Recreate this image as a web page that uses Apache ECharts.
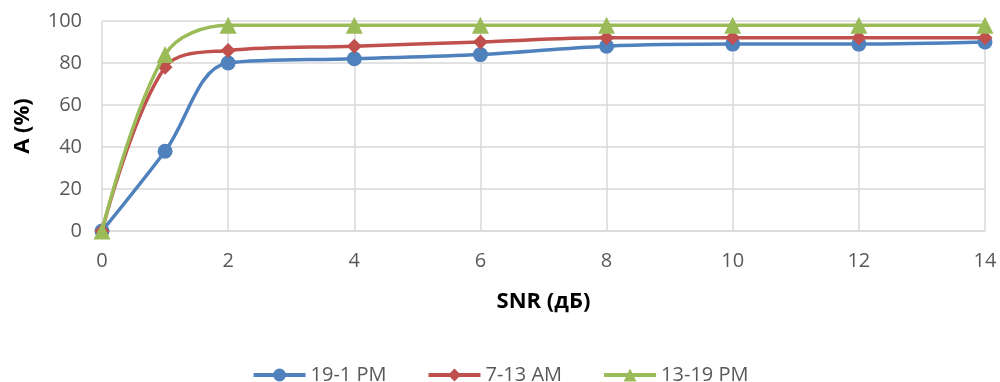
<!DOCTYPE html>
<html><head><meta charset="utf-8">
<script src="https://cdn.jsdelivr.net/npm/echarts@6/dist/echarts.min.js"></script>
<style>html,body{margin:0;padding:0;background:#fff}#c{width:1000px;height:382px}</style>
</head><body><div id="c"></div>
<script>
const snr = [0, 1, 2, 4, 6, 8, 10, 12, 14];
const pm19_1 = [0, 38, 80, 82, 84, 88, 89, 89, 90];
const am7_13 = [0, 78, 86, 88, 90, 92, 92, 92, 92];
const pm13_19 = [0, 84, 98, 98, 98, 98, 98, 98, 98];
const names = ['19-1 PM', '7-13 AM', '13-19 PM'];
const colors = ['#4f81bd', '#c0504d', '#9bbb59'];
const symbols = ['circle', 'diamond', 'triangle'];
const sizes = [15, 15, 17];
const vals = [pm19_1, am7_13, pm13_19];
const font = 'Open Sans, Liberation Sans, sans-serif';
const chart = echarts.init(document.getElementById('c'));
chart.setOption({
  animation: false,
  grid: {left: 102, right: 15, top: 21, bottom: 151},
  xAxis: {
    type: 'value', min: 0, max: 14, interval: 2,
    name: 'SNR (дБ)', nameLocation: 'middle', nameGap: 60,
    nameTextStyle: {fontFamily: font, fontSize: 22, fontWeight: 'bold', color: '#000'},
    axisLine: {lineStyle: {color: '#d9d9d9', width: 1.5}},
    axisTick: {show: false},
    axisLabel: {fontFamily: font, fontSize: 20, color: '#595959', margin: 20},
    splitLine: {show: true, lineStyle: {color: '#d9d9d9', width: 1.5}}
  },
  yAxis: {
    type: 'value', min: 0, max: 100, interval: 20,
    name: 'A (%)', nameLocation: 'middle', nameGap: 68, nameRotate: 90,
    nameTextStyle: {fontFamily: font, fontSize: 22, fontWeight: 'bold', color: '#000'},
    axisLine: {show: false},
    axisTick: {show: false},
    axisLabel: {fontFamily: font, fontSize: 20, color: '#595959', margin: 20},
    splitLine: {lineStyle: {color: '#d9d9d9', width: 1.5}}
  },
  legend: {
    top: 360, left: 'center', itemGap: 40, itemWidth: 52, itemHeight: 16,
    textStyle: {fontFamily: font, fontSize: 20, color: '#595959'},
    lineStyle: {width: 4},
    data: names
  },
  series: names.map((n, i) => ({
    name: n, type: 'line', smooth: 0.35,
    data: snr.map((x, j) => [x, vals[i][j]]),
    symbol: symbols[i], symbolSize: sizes[i],
    lineStyle: {color: colors[i], width: 3.5},
    itemStyle: {color: colors[i]},
    z: 2 + i
  }))
});
</script></body></html>
